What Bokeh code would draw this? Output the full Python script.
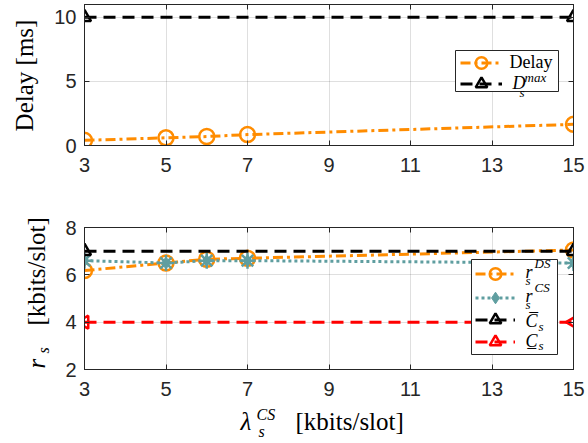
import math
from bokeh.plotting import figure
from bokeh.layouts import column, row
from bokeh.models import (Range1d, FixedTicker, LinearAxis, Legend, LegendItem, Label,
                          BoxAnnotation, CustomJSTickFormatter)
from bokeh.core.properties import value
from bokeh.embed import file_html
from bokeh.resources import INLINE

# ---------------- data ----------------
x_vals = [3, 5, 6, 7, 15]
delay_ms = [0.4, 0.6, 0.7, 0.85, 1.65]
dmax_x = [3, 15]
dmax_ms = [10, 10]
r_ds = [6.18, 6.5, 6.66, 6.7, 7.05]
r_cs = [6.6, 6.5, 6.6, 6.6, 6.5]
cap_x = [3, 15]
c_upper = [7, 7]
c_lower = [4, 4]
x_ticks = [3, 5, 7, 9, 11, 13, 15]
y1_ticks = [0, 5, 10]
y2_ticks = [2, 4, 6, 8]

# ---------------- style ----------------
ORANGE = "#FF8C00"
TEAL = "#5F9EA0"
RED = "#FF0000"
BLACK = "#000000"
AX = "#262626"
SANS = "Liberation Sans"
SERIF = "Liberation Serif"
FW = 489
FH1, FH2 = 141, 142
X0, X1 = 3, 15
Y1 = (0, 11)
Y2 = (2, 8)
LB = 31          # left border of the plot panels (tick labels only)
STRIP_W = 51     # width of the strip holding the y-axis titles
TOTAL_H = 442
BL = 0.36        # baseline correction (fraction of font size)


def make_fig(yr, fh, yticks, top, bottom):
    p = figure(frame_width=FW, frame_height=fh, x_range=Range1d(X0, X1), y_range=Range1d(*yr),
               toolbar_location=None, output_backend="svg",
               min_border_left=LB, min_border_right=16, min_border_top=top, min_border_bottom=bottom,
               background_fill_color="white", border_fill_color="white")
    p.outline_line_color = AX
    p.outline_line_width = 1
    for ax in (p.xaxis[0], p.yaxis[0]):
        ax.axis_line_color = AX
        ax.major_tick_line_color = AX
        ax.major_tick_in = 5
        ax.major_tick_out = 0
        ax.minor_tick_in = 0
        ax.minor_tick_out = 0
        ax.major_label_text_font = SANS
        ax.major_label_text_font_size = "20px"
        ax.major_label_text_color = AX
    p.xaxis[0].ticker = FixedTicker(ticks=x_ticks)
    p.yaxis[0].ticker = FixedTicker(ticks=yticks)
    p.xaxis[0].major_label_standoff = 12
    p.yaxis[0].major_label_standoff = 8
    p.xgrid[0].ticker = FixedTicker(ticks=x_ticks)
    p.ygrid[0].ticker = FixedTicker(ticks=yticks)
    for g in (p.xgrid[0], p.ygrid[0]):
        g.grid_line_color = AX
        g.grid_line_alpha = 0.15
        g.grid_line_width = 1
    blank = CustomJSTickFormatter(code="return ''")
    for side, tk in (("right", yticks), ("above", x_ticks)):
        a = LinearAxis(ticker=FixedTicker(ticks=tk), formatter=blank,
                       major_label_text_font_size="0px", major_label_standoff=0,
                       major_tick_in=5, major_tick_out=0, minor_tick_in=0, minor_tick_out=0,
                       axis_line_color=AX, major_tick_line_color=AX)
        p.add_layout(a, side)
    return p


def blank_fig(xr, yr, fw, fh, left=0, right=0, top=0, bottom=0):
    # page-pixel coordinates: x = page x, y = -page y
    f = figure(frame_width=fw, frame_height=fh, x_range=Range1d(*xr), y_range=Range1d(*yr),
               x_axis_type=None, y_axis_type=None, toolbar_location=None, output_backend="svg",
               min_border_left=left, min_border_right=right, min_border_top=top,
               min_border_bottom=bottom, outline_line_color=None,
               background_fill_color="white", border_fill_color="white")
    return f


def put(fig, x, y, text, size, italic=True, angle=0.0, align="left"):
    fig.add_layout(Label(x=x, y=y, text=text, text_font=SERIF, text_font_size=f"{size}px",
                         text_font_style="italic" if italic else "normal",
                         text_color=BLACK, text_align=align, text_baseline="alphabetic",
                         angle=angle))


def page_text(fig, px, py, text, size, italic=True):
    # horizontal text in a strip; (px, py) = page position of the baseline start
    put(fig, px, -(py - BL * size), text, size, italic)


def page_vtext(fig, px, py, text, size, italic=True, align="left"):
    # text rotated 90 deg; px = page x of the baseline
    put(fig, px - BL * size, -py, text, size, italic, angle=math.pi / 2, align=align)


def fx(px):
    return X0 + px * (X1 - X0) / FW


def fy(py, yr, fh):
    return yr[1] - py * (yr[1] - yr[0]) / fh


def frame_text(p, yr, fh, px, py, text, size, italic=True):
    put(p, fx(px), fy(py - BL * size, yr, fh), text, size, italic)


def legend_box(p, yr, fh, l, r, t, b):
    p.add_layout(BoxAnnotation(left=fx(l), right=fx(r), top=fy(t, yr, fh), bottom=fy(b, yr, fh),
                               fill_color="white", fill_alpha=1.0,
                               line_color=AX, line_width=1, line_alpha=1.0))


def legend_entry(p, fh, renderers, gx, cy, gw):
    gh = 29
    p.add_layout(Legend(items=[LegendItem(label=value(" "), renderers=renderers)],
                        location=(gx, fh - cy - gh / 2), glyph_width=gw, glyph_height=gh,
                        label_height=0, label_width=0, label_standoff=0,
                        padding=0, margin=0, border_line_alpha=0, background_fill_alpha=0,
                        label_text_font_size="1px"))


# ---------------- top panel ----------------
p1 = make_fig(Y1, FH1, y1_ticks, 4, 50)

d_line = p1.line(x_vals, delay_ms, line_color=ORANGE, line_width=3, line_dash="10 4 3 4")
d_mark = p1.scatter(x_vals, delay_ms, marker="circle", size=15, line_color=ORANGE,
                    line_width=2.5, fill_color=None)
m_line = p1.line(dmax_x, dmax_ms, line_color=BLACK, line_width=3, line_dash="12 7")
m_mark = p1.scatter(dmax_x, dmax_ms, marker="triangle", size=13, line_color=BLACK,
                    line_width=2.5, fill_color=None)

legend_box(p1, Y1, FH1, 371, 474, 46, 87)
legend_entry(p1, FH1, [d_line, d_mark], 376, 58.7, 42)
legend_entry(p1, FH1, [m_line, m_mark], 376, 79, 42)
frame_text(p1, Y1, FH1, 425, 64.3, "Delay", 18, italic=False)
frame_text(p1, Y1, FH1, 428, 85, "D", 18)
frame_text(p1, Y1, FH1, 440, 77.7, "max", 13)
frame_text(p1, Y1, FH1, 435, 92.7, "s", 13)

# ---------------- bottom panel ----------------
p2 = make_fig(Y2, FH2, y2_ticks, 32, 35)

ds_line = p2.line(x_vals, r_ds, line_color=ORANGE, line_width=3, line_dash="10 4 3 4")
ds_mark = p2.scatter(x_vals, r_ds, marker="circle", size=15, line_color=ORANGE,
                     line_width=2.5, fill_color=None)
cs_line = p2.line(x_vals, r_cs, line_color=TEAL, line_width=3, line_dash="3 3")
cs_mark = p2.scatter(x_vals, r_cs, marker="diamond", size=12, line_color=TEAL,
                     line_width=1, fill_color=TEAL)
cs_star = p2.scatter(x_vals, r_cs, marker="asterisk", size=16, line_color=TEAL, line_width=2.5)
cu_line = p2.line(cap_x, c_upper, line_color=BLACK, line_width=3, line_dash="12 7")
cu_mark = p2.scatter(cap_x, c_upper, marker="triangle", size=13, line_color=BLACK,
                     line_width=2.5, fill_color=None)
cl_line = p2.line(cap_x, c_lower, line_color=RED, line_width=3, line_dash="12 7")
cl_mark = p2.scatter(cap_x, c_lower, marker="triangle", size=13, angle=math.pi / 2,
                     line_color=RED, line_width=2.5, fill_color=None)

legend_box(p2, Y2, FH2, 387, 473, 32, 127)
centers = [46, 70, 92, 114]
legend_entry(p2, FH2, [ds_line, ds_mark], 391, centers[0], 40)
legend_entry(p2, FH2, [cs_line, cs_mark], 391, centers[1], 40)
legend_entry(p2, FH2, [cu_line, cu_mark], 391, centers[2], 40)
legend_entry(p2, FH2, [cl_line, cl_mark], 391, centers[3], 40)
for c, sup in zip(centers[:2], ["DS", "CS"]):
    frame_text(p2, Y2, FH2, 441, c + 5, "r", 18)
    frame_text(p2, Y2, FH2, 450, c - 5, sup, 13)
    frame_text(p2, Y2, FH2, 441, c + 12, "s", 13)
frame_text(p2, Y2, FH2, 441, centers[2] + 8, "C\u0305", 18)
frame_text(p2, Y2, FH2, 454, centers[2] + 12, "s", 13)
frame_text(p2, Y2, FH2, 441, centers[3] + 6, "C\u0332", 18)
frame_text(p2, Y2, FH2, 454, centers[3] + 9, "s", 13)

# ---------------- x-axis title strip (page coordinates) ----------------
XL_TOP = 4 + FH1 + 50 + 32 + FH2 + 35
xl = blank_fig((STRIP_W + LB, STRIP_W + LB + FW), (-TOTAL_H, -XL_TOP), FW, TOTAL_H - XL_TOP,
               left=LB, right=16)
page_text(xl, 238, 430, "\u03bb", 25)
page_text(xl, 254, 420, "CS", 16)
page_text(xl, 256, 437, "s", 16)
page_text(xl, 293, 430, "[kbits/slot]", 25, italic=False)

# ---------------- y-axis title strip (page coordinates) ----------------
yl = blank_fig((0, STRIP_W), (-TOTAL_H, -4), STRIP_W, TOTAL_H - 4, top=4)
page_vtext(yl, 33, 75, "Delay [ms]", 25, italic=False, align="center")
page_vtext(yl, 45, 368, "r", 25)
page_vtext(yl, 49, 353, "s", 16)
page_vtext(yl, 45, 325, "[kbits/slot]", 25, italic=False)

layout = row(yl, column(p1, p2, xl))
open("out.html", "w").write(file_html(layout, INLINE))
